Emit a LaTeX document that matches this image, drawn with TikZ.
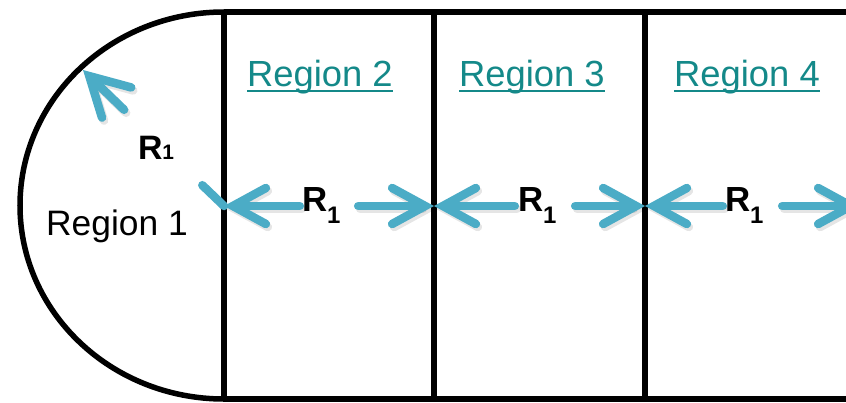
\documentclass[tikz,border=0pt]{standalone}
\usepackage{fontspec}
\setmainfont{Liberation Sans}
\usetikzlibrary{arrows.meta,calc}
\definecolor{arrowblue}{RGB}{75,172,198}
\definecolor{tealtext}{RGB}{20,137,137}
\newcommand\ulink[1]{\setbox0\hbox{#1}\rlap{\rule[-6bp]{\wd0}{2.6bp}}\box0}
\newcommand\rone[4]{{\fontsize{#1}{#1}\selectfont\bfseries R\raisebox{#3}{\fontsize{#2}{#2}\selectfont\bfseries 1}}}
\begin{document}
\begin{tikzpicture}[x=1bp,y=1bp,
  outline/.style={line width=5.5bp,black},
  shaft/.style={line width=8.5bp,arrowblue,line cap=round},
  arr/.style={shaft,-{Straight Barb[length=33bp,width=36bp,line cap=round]}},
  bigarr/.style={shaft,-{Straight Barb[length=38bp,width=42bp,line cap=round]}},
  shadowed/.style={line width=8.5bp,black,opacity=0.10,line cap=round,
     -{Straight Barb[length=33bp,width=36bp,line cap=round]}},
  gapbox/.style={fill=white,inner sep=0pt,minimum width=58bp,minimum height=40bp},
  regtext/.style={inner sep=0pt,font=\fontsize{36.5}{40}\selectfont,text=tealtext}]
\clip (0,0) rectangle (846,402);
\fill[white] (0,0) rectangle (846,402);
% outline
\draw[outline] (224,390) -- (870,390);
\draw[outline] (224,3) -- (870,3);
\draw[outline] (224,390) arc[start angle=90,end angle=270,x radius=204bp,y radius=193.5bp];
\draw[outline] (224,390) -- (224,3);
\draw[outline] (434,390) -- (434,3);
\draw[outline] (645,390) -- (645,3);
% junction points
\coordinate (c1) at (224,196);
\coordinate (c2) at (434,196);
\coordinate (c3) at (645,196);
\coordinate (c4) at (860,196);
\coordinate (a1) at (83,332);
% labels
\node[regtext,font=\fontsize{35.5}{40}\selectfont] (reg1) at (117,176) {\color{black}Region 1};
\node[regtext] (reg2) at (320,325) {\ulink{Region 2}};
\node[regtext] (reg3) at (532,325) {\ulink{Region 3}};
\node[regtext] (reg4) at (747,325) {\ulink{Region 4}};
% R1 labels with white gap boxes
\node[gapbox,minimum width=90bp,minimum height=75bp]
  (r1) at (163,254.5) {\hbox to 90bp{\hspace{20bp}\rone{34}{21}{0bp}{}\hfill}};
\node[gapbox] (r2) at (329,196) {\hbox to 58bp{\hspace{2bp}\rone{35}{24}{-12bp}{}\hfill}};
\node[gapbox,minimum width=60bp] (r3) at (545,196) {\hbox to 60bp{\hspace{3bp}\rone{35}{24}{-12bp}{}\hfill}};
\node[gapbox,minimum width=59bp] (r4) at (752.5,196) {\hbox to 59bp{\hspace{2bp}\rone{35}{24}{-12bp}{}\hfill}};
% arrow shadows
\begin{scope}[transform canvas={shift={(2bp,-3bp)}}]
\draw[shadowed,-{Straight Barb[length=38bp,width=42bp,line cap=round]}] (r1) -- (a1);
\draw[shadowed] (r2) -- (c1);
\draw[shadowed] (r2) -- (c2);
\draw[shadowed] (r3) -- (c2);
\draw[shadowed] (r3) -- (c3);
\draw[shadowed] (r4) -- (c3);
\draw[shadowed] (r4) -- (c4);
\end{scope}
% arrows
\draw[shaft] (r1) -- (c1);
\draw[bigarr] (r1) -- (a1);
\draw[arr] (r2) -- (c1);
\draw[arr] (r2) -- (c2);
\draw[arr] (r3) -- (c2);
\draw[arr] (r3) -- (c3);
\draw[arr] (r4) -- (c3);
\draw[arr] (r4) -- (c4);
\end{tikzpicture}
\end{document}
